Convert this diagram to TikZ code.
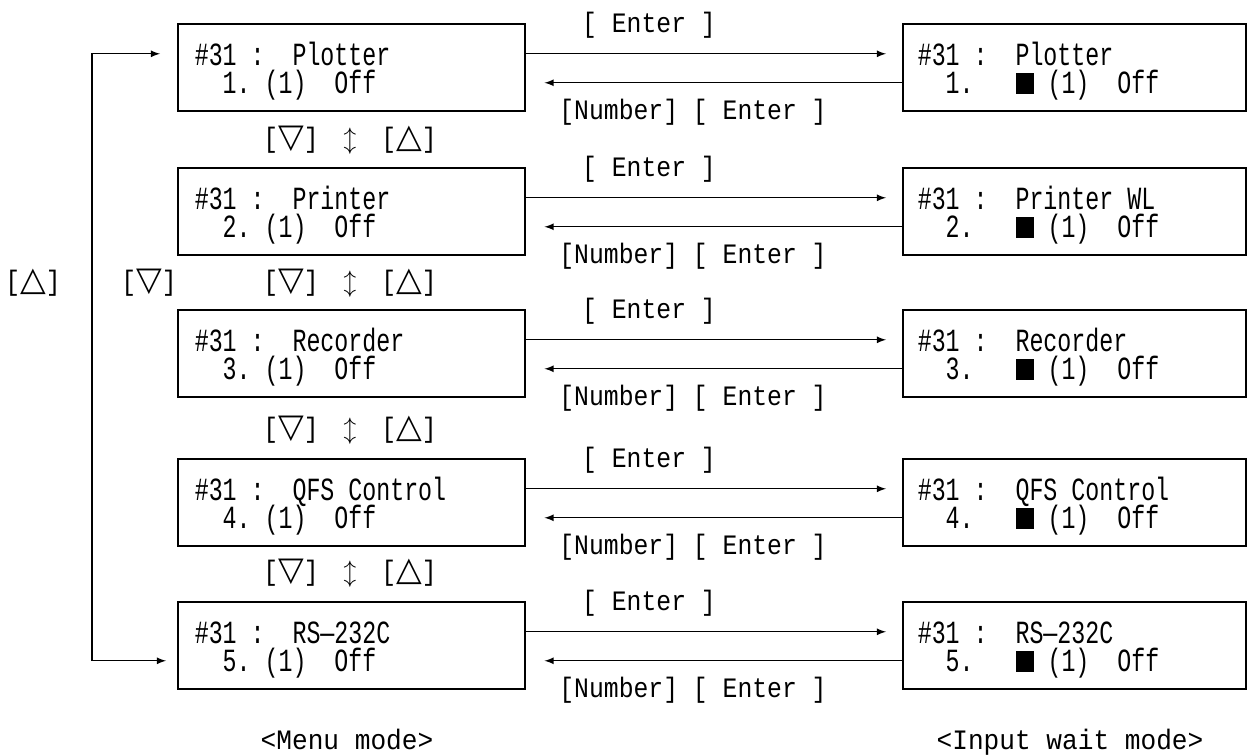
\documentclass[tikz,border=0pt]{standalone}
\usepackage{fontspec}
\usepackage{tikz}
\usetikzlibrary{arrows}
\usetikzlibrary{positioning}

\newfontfamily\lcdfont[FakeStretch=0.72]{Liberation Mono}
\newfontfamily\keyfont[FakeStretch=0.88]{Liberation Mono}
\newfontfamily\capfont[FakeStretch=0.93]{Liberation Mono}
\newfontfamily\symfont{DejaVu Sans}

\newcommand{\upkey}{[{\symfont\fontsize{19pt}{19pt}\selectfont △}]}
\newcommand{\dnkey}{[{\symfont\fontsize{19pt}{19pt}\selectfont ▽}]}
\newcommand{\updn}{{\fontsize{14pt}{14pt}\selectfont$\updownarrow$}}
\newcommand{\curblk}{\rule{0.36cm}{0.42cm}}
\newcommand{\lcdstrut}{\rule{0pt}{0.63cm}}
\newcommand{\tightlines}{\setlength{\lineskiplimit}{-100pt}}
\newcommand{\sk}{\hphantom{0}}

\begin{document}
\begin{tikzpicture}[x=0.02cm, y=-0.02cm,
		menubox/.style={draw, line width=0.9pt, anchor=north west, minimum height=1.74cm, text width=6.26cm, inner xsep=0.34cm, align=left, font=\lcdfont\fontsize{18.4pt}{16pt}\selectfont\tightlines},
		waitbox/.style={menubox, inner xsep=0.3cm},
		keylbl/.style={font=\keyfont\fontsize{16pt}{16pt}\selectfont\frenchspacing, inner sep=0pt},
		modelbl/.style={font=\capfont\fontsize{16pt}{18pt}\selectfont, anchor=base},
		flow/.style={->, >=latex, line width=0.8pt}]
		\useasboundingbox (0,0) rectangle (1247,754);
		
		% menu mode
		\node[menubox] (m1) at (177,23) {\lcdstrut\#31\sk:\sk\sk Plotter\\\sk\sk1.\sk(1)\sk\sk Off};
		\node[menubox] (m2) at (177,167) {\lcdstrut\#31\sk:\sk\sk Printer\\\sk\sk2.\sk(1)\sk\sk Off};
		\node[menubox] (m3) at (177,309) {\lcdstrut\#31\sk:\sk\sk Recorder\\\sk\sk3.\sk(1)\sk\sk Off};
		\node[menubox] (m4) at (177,458) {\lcdstrut\#31\sk:\sk\sk QFS\sk Control\\\sk\sk4.\sk(1)\sk\sk Off};
		\node[menubox] (m5) at (177,601) {\lcdstrut\#31\sk:\sk\sk RS—232C\\\sk\sk5.\sk(1)\sk\sk Off};
		
		% input wait mode
		\node[waitbox] (w1) at (902,23) {\lcdstrut\#31\sk:\sk\sk Plotter\\\sk\sk1.\sk\sk\sk\curblk\sk(1)\sk\sk Off};
		\node[waitbox] (w2) at (902,167) {\lcdstrut\#31\sk:\sk\sk Printer\sk WL\\\sk\sk2.\sk\sk\sk\curblk\sk(1)\sk\sk Off};
		\node[waitbox] (w3) at (902,309) {\lcdstrut\#31\sk:\sk\sk Recorder\\\sk\sk3.\sk\sk\sk\curblk\sk(1)\sk\sk Off};
		\node[waitbox] (w4) at (902,458) {\lcdstrut\#31\sk:\sk\sk QFS\sk Control\\\sk\sk4.\sk\sk\sk\curblk\sk(1)\sk\sk Off};
		\node[waitbox] (w5) at (902,601) {\lcdstrut\#31\sk:\sk\sk RS—232C\\\sk\sk5.\sk\sk\sk\curblk\sk(1)\sk\sk Off};
		
		\draw[flow, shorten >=0.32cm] ([yshift=0.27cm]m1.east) -- ([yshift=0.27cm]w1.west);
		\draw[flow, shorten >=0.38cm] ([yshift=-0.31cm]w1.west) -- ([yshift=-0.31cm]m1.east);
		\draw[flow, shorten >=0.32cm] ([yshift=0.27cm]m2.east) -- ([yshift=0.27cm]w2.west);
		\draw[flow, shorten >=0.38cm] ([yshift=-0.31cm]w2.west) -- ([yshift=-0.31cm]m2.east);
		\draw[flow, shorten >=0.32cm] ([yshift=0.27cm]m3.east) -- ([yshift=0.27cm]w3.west);
		\draw[flow, shorten >=0.38cm] ([yshift=-0.31cm]w3.west) -- ([yshift=-0.31cm]m3.east);
		\draw[flow, shorten >=0.32cm] ([yshift=0.27cm]m4.east) -- ([yshift=0.27cm]w4.west);
		\draw[flow, shorten >=0.38cm] ([yshift=-0.31cm]w4.west) -- ([yshift=-0.31cm]m4.east);
		\draw[flow, shorten >=0.32cm] ([yshift=0.27cm]m5.east) -- ([yshift=0.27cm]w5.west);
		\draw[flow, shorten >=0.38cm] ([yshift=-0.31cm]w5.west) -- ([yshift=-0.31cm]m5.east);
		
		\node[keylbl] (ent1) at (649,25) {[~Enter~]};
		\node[keylbl] (num1) at (693,112) {[Number]~[~Enter~]};
		\node[keylbl] (ent2) at (649,169) {[~Enter~]};
		\node[keylbl] (num2) at (693,256) {[Number]~[~Enter~]};
		\node[keylbl] (ent3) at (649,311) {[~Enter~]};
		\node[keylbl] (num3) at (693,398) {[Number]~[~Enter~]};
		\node[keylbl] (ent4) at (649,460) {[~Enter~]};
		\node[keylbl] (num4) at (693,547) {[Number]~[~Enter~]};
		\node[keylbl] (ent5) at (649,603) {[~Enter~]};
		\node[keylbl] (num5) at (693,690) {[Number]~[~Enter~]};
		
		\node[keylbl] (ud1) at (350,140) {\dnkey\hspace{0.5cm}\updn\hspace{0.5cm}\upkey};
		\node[keylbl] (ud2) at (350,283) {\dnkey\hspace{0.5cm}\updn\hspace{0.5cm}\upkey};
		\node[keylbl] (ud3) at (350,430) {\dnkey\hspace{0.5cm}\updn\hspace{0.5cm}\upkey};
		\node[keylbl] (ud4) at (350,573) {\dnkey\hspace{0.5cm}\updn\hspace{0.5cm}\upkey};
		
		% wrap round between first and last item
		\coordinate (sidebar) at (92,350);
		\draw[flow, <->, shorten <=0.34cm, shorten >=0.22cm] ([yshift=0.27cm]m1.west) -| (sidebar) |- ([yshift=-0.31cm]m5.west);
		\node[keylbl] (wrapup) at (33,283) {\upkey};
		\node[keylbl] (wrapdn) at (149,283) {\dnkey};
		
		\node[modelbl] (menucap) at (347,749) {<Menu mode>};
		\node[modelbl] (waitcap) at (1070,749) {<Input wait mode>};
	\end{tikzpicture}
\end{document}
